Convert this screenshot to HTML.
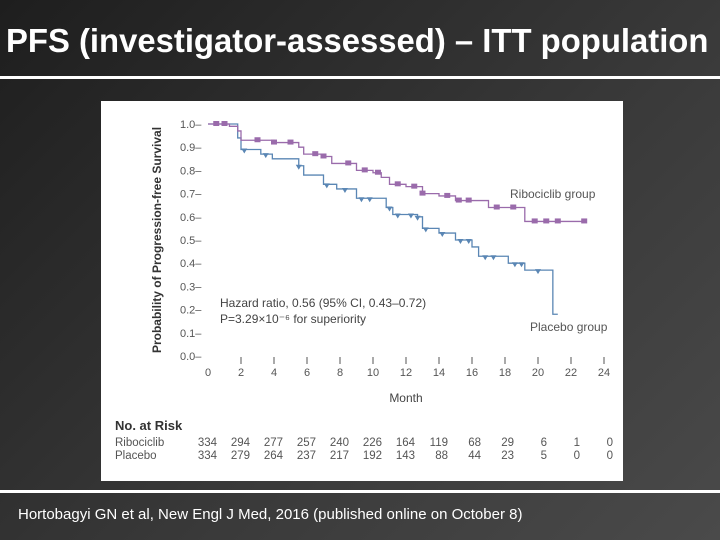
<!DOCTYPE html>
<html><head><meta charset="utf-8"><style>
body{margin:0;width:720px;height:540px;overflow:hidden;background:linear-gradient(135deg,#1e1e1e 0%,#3a3a3a 60%,#4a4a4a 100%);font-family:"Liberation Sans",sans-serif;position:relative}
#title{position:absolute;left:6px;top:22px;color:#fff;font-weight:bold;font-size:33px;white-space:nowrap;transform:scaleX(0.995);transform-origin:left top;letter-spacing:0px}
.hr{position:absolute;left:0;width:720px;height:3px;background:#fff}
#panel{position:absolute;left:101px;top:101px;width:522px;height:380px;background:#fff}
#cite{position:absolute;left:18px;top:506px;color:#fff;font-size:15px;white-space:nowrap}
</style></head><body>
<div id="title">PFS (investigator-assessed) – ITT population</div>
<div class="hr" style="top:76px"></div>
<div id="panel"></div>
<div class="hr" style="top:490px"></div>
<div id="cite">Hortobagyi GN et al, New Engl J Med, 2016 (published online on October 8)</div>
<svg id="chart" width="720" height="540" style="position:absolute;left:0;top:0"></svg>
<script>
const xTicks=[0,2,4,6,8,10,12,14,16,18,20,22,24];
const yTicks=[0,0.1,0.2,0.3,0.4,0.5,0.6,0.7,0.8,0.9,1.0];
const riboT=[0,1.3,1.8,2.0,4.0,5.5,5.8,7.0,7.5,9.0,10.0,10.5,11.0,12.0,13.0,14.0,15.0,17.0,19.2,22.8];
const riboS=[1.0,0.99,0.97,0.93,0.92,0.90,0.87,0.86,0.83,0.80,0.79,0.77,0.74,0.73,0.70,0.69,0.67,0.64,0.58,0.58];
const placT=[0,1.8,2.0,3.2,3.9,5.5,5.8,7.0,7.8,9.0,10.8,11.2,12.7,13.0,14.0,15.0,16.0,16.4,18.2,19.2,20.9,21.2];
const placS=[1.0,0.94,0.89,0.87,0.85,0.82,0.78,0.74,0.72,0.68,0.64,0.61,0.60,0.55,0.53,0.50,0.47,0.43,0.40,0.37,0.18,0.18];
const riboCens=[0.5,1.0,3.0,4.0,5.0,6.5,7.0,8.5,9.5,10.3,11.5,12.5,13.0,14.5,15.2,15.8,17.5,18.5,19.8,20.5,21.2,22.8];
const placCens=[2.2,3.5,5.5,7.2,8.3,9.3,9.8,11.0,11.5,12.3,12.7,13.2,14.2,15.3,15.8,16.8,17.3,18.6,19.0,20.0];
const riskLabels=["Ribociclib","Placebo"];
const riskRibo=[334,294,277,257,240,226,164,119,68,29,6,1,0];
const riskPlac=[334,279,264,237,217,192,143,88,44,23,5,0,0];
const svg=document.getElementById('chart');const NS='http://www.w3.org/2000/svg';
const X=t=>208+t*(396/24), Y=s=>356-s*232;
function mk(tag,at,txt){const e=document.createElementNS(NS,tag);for(const k in at)e.setAttribute(k,at[k]);if(txt!==undefined)e.textContent=txt;svg.appendChild(e);return e;}
const F='"Liberation Sans",sans-serif';
yTicks.forEach(v=>{const t=mk('text',{x:180,y:Y(v)+4,'font-size':11,fill:'#555','font-family':F},v.toFixed(1)+'–');

});
xTicks.forEach(v=>{if(v>0){const l=mk('line',{x1:X(v),x2:X(v),y1:357,y2:364,stroke:'#555','stroke-width':1});

}
const t=mk('text',{x:X(v),y:376,'font-size':11,fill:'#555','text-anchor':'middle','font-family':F},v);

});
let yt=mk('text',{x:0,y:0,'font-size':12,fill:'#333','font-weight':'bold','text-anchor':'middle','font-family':F,transform:'translate(161,240) rotate(-90)'},'Probability of Progression-free Survival');


let xt=mk('text',{x:406,y:402,'font-size':12,fill:'#444','text-anchor':'middle','font-family':F},'Month');


function step(T,S){let d='M'+X(T[0])+' '+Y(S[0]);for(let i=1;i<T.length;i++){d+=' H'+X(T[i])+' V'+Y(S[i]);}return d;}
function sAt(T,S,t){let s=S[0];for(let i=0;i<T.length;i++)if(T[i]<=t)s=S[i];return s;}
let pr=mk('path',{d:step(placT,placS),fill:'none',stroke:'#5a86b4','stroke-width':1.3});


let rr=mk('path',{d:step(riboT,riboS),fill:'none',stroke:'#9a6bab','stroke-width':1.3});


riboCens.forEach(t=>{const r=mk('rect',{x:X(t)-3,y:Y(sAt(riboT,riboS,t))-3,width:6,height:5,fill:'#9a6bab'});

});
placCens.forEach(t=>{const x=X(t),y=Y(sAt(placT,placS,t));const p=mk('path',{d:`M${x-3} ${y-1} H${x+3} L${x} ${y+4}Z`,fill:'#5a86b4'});

});
let l1=mk('text',{x:510,y:198,'font-size':12,fill:'#555','font-family':F},'Ribociclib group');


let l2=mk('text',{x:530,y:331,'font-size':12,fill:'#555','font-family':F},'Placebo group');


let h1=mk('text',{x:220,y:307,'font-size':12,fill:'#444','font-family':F},'Hazard ratio, 0.56 (95% CI, 0.43–0.72)');


let h2=mk('text',{x:220,y:323,'font-size':12,fill:'#444','font-family':F},'P=3.29×10⁻⁶ for superiority');


let rh=mk('text',{x:115,y:430,'font-size':13,fill:'#333','font-weight':'bold','font-family':F},'No. at Risk');


[riskRibo,riskPlac].forEach((arr,i)=>{const y=446+i*13;
const n=mk('text',{x:115,y:y,'font-size':11.5,fill:'#555','font-family':F},riskLabels[i]);


arr.forEach((v,j)=>{const x=X(j*2);const t=mk('text',{x:x+9,y:y,'font-size':11.5,fill:'#555','text-anchor':'end','font-family':F},v);

});});
</script>
</body></html>
